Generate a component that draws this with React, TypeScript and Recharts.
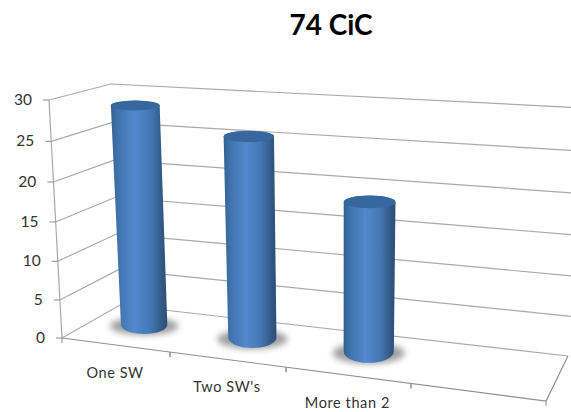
import React from "react";
import { ComposedChart, Bar, XAxis, YAxis } from "recharts";

const title = "74 CiC";
const categories = ["One SW", "Two SW's", "More than 2", " "];
const counts: (number | null)[] = [29, 26, 19, null];
const yTicks = [0, 5, 10, 15, 20, 25, 30];
const tableRows = categories.map((category, i) => ({ category, count: counts[i] }));

const W = 571, H = 412;
const PL = 62, PR = 546, PT = 100, PB = 338;
const FONT = "Lato, 'Open Sans', sans-serif";
const GRID = "#a9a9a9";

// Oblique projection of the Excel-style 3D box
const persp = (u: number) => u / (u + (1 - u) * 1.16);
const warp = (t: number) => t - 0.05 * t * (1 - t);
const frontLeft = (t: number) => ({ x: PL - 13 * t, y: PB - 238 * warp(t) });
const backLeft = (t: number) => ({ x: 120 - 9 * t, y: 305 - 221 * warp(t) });
const backRight = (t: number) => ({ x: 568 + 17 * t, y: 356 - 248 * warp(t) });
const frontRight = { x: PR, y: 401 };
const toT = (py: number) => (PB - py) / (PB - PT);
const toU = (px: number) => (px - PL) / (PR - PL);

const YTick = (props: any) => {
  const t = toT(props.y);
  const a = frontLeft(t), b = backLeft(t), c = backRight(t);
  return (
    <g>
      <polyline points={`${a.x},${a.y} ${b.x},${b.y} ${c.x},${c.y}`} fill="none" stroke={GRID} strokeWidth={1.2} />
      <line x1={a.x - 6} y1={a.y} x2={a.x} y2={a.y} stroke="#8c8c8c" strokeWidth={1} />
      <text x={a.x - 17} y={a.y + 5} textAnchor="end" fontSize={15.5} fontFamily={FONT} fill="#333">
        {props.payload.value}
      </text>
      {props.payload.value === 0 && (
        <g fill="none">
          <line x1={frontLeft(0).x} y1={frontLeft(0).y} x2={frontLeft(1).x} y2={frontLeft(1).y} stroke={GRID} strokeWidth={1.2} />
          <polyline
            points={`${a.x},${a.y} ${frontRight.x},${frontRight.y} ${c.x},${c.y}`}
            stroke="#8f8f8f"
            strokeWidth={1.2}
          />
        </g>
      )}
    </g>
  );
};

const floorFront = (s: number) => ({ x: PL + (PR - PL) * s, y: PB + 63 * s });

const XTick = (props: any) => {
  const u = toU(props.x);
  const label = floorFront(persp(u));
  const left = floorFront(persp(u - 0.125));
  const right = floorFront(persp(u + 0.125));
  return (
    <g>
      <line x1={left.x} y1={left.y} x2={left.x} y2={left.y + 5} stroke="#8f8f8f" />
      <line x1={right.x} y1={right.y} x2={right.x} y2={right.y + 5} stroke="#8f8f8f" />
      <text x={label.x} y={label.y + 33} textAnchor="middle" fontSize={14.5} letterSpacing={0.6} fontFamily={FONT} fill="#333">
        {props.payload.value}
      </text>
    </g>
  );
};

const Cylinder = (props: any) => {
  const { x, y, width, index } = props;
  const s = persp(toU(x + width / 2));
  const t = warp(toT(y));
  const baseX = 93 + 468 * s;
  const baseY = 318.5 + 56 * s;
  const topX = baseX + (-11.6 + 22 * s) * t;
  const topY = baseY - (224 + 28 * s) * t;
  const rb = (45.5 + 8 * s) / 2;
  const rt = rb + 1.25 * t;
  const ryTop = 4.6 + 3 * s;
  const ryBot = 9 + 4 * s;
  const id = `cyl${index}`;
  const d = `M${topX - rt},${topY} L${baseX - rb},${baseY} A${rb},${ryBot} 0 0 0 ${baseX + rb},${baseY} L${topX + rt},${topY} A${rt},${ryTop} 0 0 0 ${topX - rt},${topY} Z`;
  return (
    <g>
      <defs>
        <linearGradient id={id} x1="0" y1="0" x2="1" y2="0">
          <stop offset="0" stopColor="#34618f" />
          <stop offset="0.12" stopColor="#3f72ad" />
          <stop offset="0.42" stopColor="#5289cd" />
          <stop offset="0.7" stopColor="#4577b4" />
          <stop offset="0.92" stopColor="#305780" />
          <stop offset="1" stopColor="#2d4f78" />
        </linearGradient>
        <filter id={`${id}b`} x="-30%" y="-60%" width="160%" height="220%">
          <feGaussianBlur stdDeviation="3" />
        </filter>
      </defs>
      <ellipse cx={baseX} cy={baseY + ryBot * 0.15} rx={rb + 11} ry={ryBot * 0.85 + 1} fill="#777" opacity={0.7} filter={`url(#${id}b)`} />
      <path d={d} fill={`url(#${id})`} />
      <ellipse cx={topX} cy={topY} rx={rt} ry={ryTop} fill="#36689f" />
    </g>
  );
};

const NoShape = () => null;

const layer: React.CSSProperties = { position: "absolute", left: 0, top: 0 };

export default function App() {
  return (
    <div style={{ ...layer, width: W, height: H, background: "#fff", overflow: "hidden" }}>
      <div
        style={{
          position: "absolute",
          left: 231,
          width: 200,
          top: 5,
          textAlign: "center",
          fontFamily: FONT,
          fontWeight: 700,
          fontSize: 28,
          lineHeight: "38px",
          color: "#000",
        }}
      >
        {title}
      </div>
      {/* back layer: axes and box */}
      <div style={layer}>
        <ComposedChart
          width={W}
          height={H}
          data={tableRows}
          margin={{ top: PT, left: 2, right: W - PR, bottom: 24 }}
        >
          <YAxis
            type="number"
            domain={[0, 30]}
            ticks={yTicks}
            width={PL - 2}
            axisLine={false}
            tickLine={false}
            tick={<YTick />}
            interval={0}
          />
          <XAxis
            dataKey="category"
            height={H - PB - 24}
            axisLine={false}
            tickLine={false}
            tick={<XTick />}
            interval={0}
          />
          <Bar dataKey="count" isAnimationActive={false} shape={<NoShape />} />
        </ComposedChart>
      </div>
      {/* front layer: cylinders */}
      <div style={layer}>
        <ComposedChart
          width={W}
          height={H}
          data={tableRows}
          margin={{ top: PT, left: PL, right: W - PR, bottom: H - PB }}
          barCategoryGap="30%"
        >
          <YAxis type="number" domain={[0, 30]} hide />
          <XAxis dataKey="category" hide />
          <Bar dataKey="count" isAnimationActive={false} shape={<Cylinder />} />
        </ComposedChart>
      </div>
    </div>
  );
}
